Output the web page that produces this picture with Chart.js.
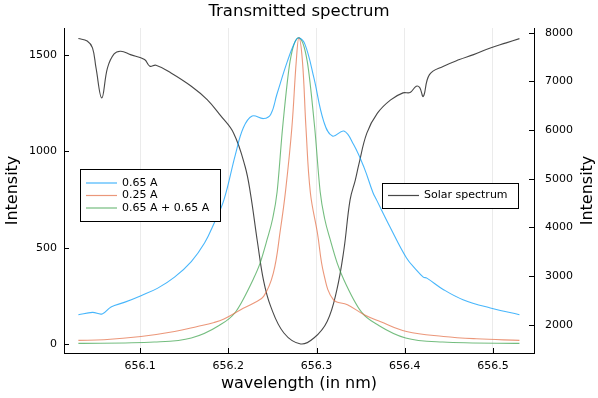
<!DOCTYPE html>
<html>
<head>
<meta charset="utf-8">
<script src="https://cdn.jsdelivr.net/npm/chart.js@4.4.1/dist/chart.umd.min.js"></script>
<style>
html,body{margin:0;padding:0;background:#fff;}
canvas{display:block;}
</style>
</head>
<body>
<canvas id="c" width="598" height="398"></canvas>
<script>
// ---- data ----
const xTicks = [656.1, 656.2, 656.3, 656.4, 656.5];
const yLeftTicks = [0, 500, 1000, 1500];
const yRightTicks = [2000, 3000, 4000, 5000, 6000, 7000, 8000];

const seriesLabels = ["0.65 A", "0.25 A", "0.65 A + 0.65 A", "Solar spectrum"];

const wlBlue = [656.030, 656.046, 656.057, 656.067, 656.082, 656.101, 656.120, 656.139, 656.158, 656.173, 656.184, 656.195, 656.208, 656.217, 656.227, 656.240, 656.248, 656.255, 656.267, 656.276, 656.280, 656.287, 656.297, 656.308, 656.318, 656.331, 656.342, 656.354, 656.364, 656.368, 656.383, 656.402, 656.413, 656.421, 656.425, 656.444, 656.466, 656.497, 656.530];
const blue65 = [152, 164, 156, 192, 216, 251, 290, 347, 428, 524, 628, 748, 983, 1122, 1183, 1170, 1191, 1295, 1468, 1572, 1589, 1554, 1381, 1157, 1079, 1105, 1035, 914, 785, 748, 610, 446, 385, 347, 342, 282, 230, 187, 152];

const wlOrange = [656.030, 656.059, 656.101, 656.139, 656.165, 656.184, 656.195, 656.214, 656.229, 656.240, 656.251, 656.259, 656.265, 656.272, 656.277, 656.280, 656.284, 656.288, 656.293, 656.301, 656.308, 656.319, 656.335, 656.354, 656.372, 656.402, 656.444, 656.481, 656.530];
const orange25 = [19, 22, 39, 65, 91, 112, 130, 178, 213, 247, 368, 593, 800, 1122, 1468, 1589, 1468, 1122, 785, 576, 368, 230, 204, 152, 117, 65, 39, 27, 19];

const wlGreen = [656.030, 656.116, 656.158, 656.189, 656.208, 656.2286, 656.2360, 656.2438, 656.2502, 656.2553, 656.2615, 656.2700, 656.2797, 656.2894, 656.2979, 656.3041, 656.3092, 656.3156, 656.3234, 656.3308, 656.351, 656.371, 656.401, 656.443, 656.530];
const green6565 = [3, 10, 31, 95, 165, 340, 420, 540, 650, 790, 1122, 1468, 1589, 1468, 1122, 790, 650, 540, 420, 335, 165, 95, 31, 10, 3];

const wlSolar = [656.030, 656.040, 656.046, 656.050, 656.0565, 656.063, 656.0705, 656.078, 656.089, 656.105, 656.111, 656.118, 656.135, 656.158, 656.176, 656.191, 656.206, 656.219, 656.225, 656.233, 656.240, 656.248, 656.263, 656.282, 656.297, 656.312, 656.323, 656.331, 656.338, 656.344, 656.348, 656.357, 656.369, 656.384, 656.398, 656.406, 656.413, 656.417, 656.421, 656.428, 656.444, 656.462, 656.478, 656.497, 656.515, 656.530];
const solar = [7880, 7830, 7687, 7276, 6660, 7276, 7563, 7619, 7549, 7447, 7311, 7332, 7173, 6900, 6625, 6300, 5936, 5251, 4704, 3700, 2900, 2376, 1830, 1605, 1727, 2068, 2718, 3540, 4566, 4977, 5300, 5936, 6346, 6619, 6763, 6770, 6900, 6870, 6690, 7139, 7311, 7447, 7549, 7687, 7790, 7878];

// ---- styling ----
const COLORS = ["rgba(0,154,250,0.72)", "rgba(227,111,71,0.72)", "rgba(62,164,78,0.72)", "rgba(40,40,40,0.85)"];
const FONT = "DejaVu Sans";

function pts(xs, ys) { return xs.map((x, i) => ({x: x, y: ys[i]})); }

const textPlugin = {
  id: 'texts',
  afterDraw(chart) {
    const ctx = chart.ctx, a = chart.chartArea;
    ctx.save();
    ctx.fillStyle = '#000';
    ctx.textAlign = 'center';
    ctx.textBaseline = 'middle';
    ctx.font = `16.5px "${FONT}"`;
    ctx.fillText("Transmitted spectrum", (a.left + a.right) / 2, 12);
    ctx.font = `16px "${FONT}"`;
    ctx.fillText("wavelength (in nm)", (a.left + a.right) / 2, 384);
    ctx.save();
    ctx.translate(13, (a.top + a.bottom) / 2);
    ctx.rotate(-Math.PI / 2);
    ctx.fillText("Intensity", 0, 0);
    ctx.restore();
    ctx.save();
    ctx.translate(588, (a.top + a.bottom) / 2);
    ctx.rotate(-Math.PI / 2);
    ctx.fillText("Intensity", 0, 0);
    ctx.restore();

    // inward tick marks
    ctx.strokeStyle = '#000';
    ctx.lineWidth = 1;
    const L = 5;
    const xs = chart.scales.x, yl = chart.scales.y, yr = chart.scales.y2;
    xs.ticks.forEach(t => {
      const p = Math.round(xs.getPixelForValue(t.value)) + 0.5;
      ctx.beginPath(); ctx.moveTo(p, a.bottom); ctx.lineTo(p, a.bottom - L); ctx.stroke();
    });
    yl.ticks.forEach(t => {
      const p = Math.round(yl.getPixelForValue(t.value)) + 0.5;
      ctx.beginPath(); ctx.moveTo(a.left, p); ctx.lineTo(a.left + L, p); ctx.stroke();
    });
    yr.ticks.forEach(t => {
      const p = Math.round(yr.getPixelForValue(t.value)) + 0.5;
      ctx.beginPath(); ctx.moveTo(a.right, p); ctx.lineTo(a.right - L, p); ctx.stroke();
    });

    // legends
    ctx.font = `11px "${FONT}"`;
    ctx.textAlign = 'left';
    function legend(x0, y0, w, h, items) {
      ctx.fillStyle = '#fff';
      ctx.fillRect(x0, y0, w, h);
      ctx.strokeStyle = '#000';
      ctx.lineWidth = 1;
      ctx.strokeRect(x0 + 0.5, y0 + 0.5, w, h);
      items.forEach((it, i) => {
        const y = it.y;
        ctx.strokeStyle = it.color;
        ctx.lineWidth = 1.2;
        ctx.beginPath(); ctx.moveTo(x0 + 6, y); ctx.lineTo(x0 + 37, y); ctx.stroke();
        ctx.fillStyle = '#000';
        ctx.fillText(it.label, x0 + 42, y);
      });
    }
    const ds = chart.data.datasets;
    legend(80, 169, 140, 52, [
      {label: ds[0].label, color: ds[0].borderColor, y: 183},
      {label: ds[1].label, color: ds[1].borderColor, y: 195.5},
      {label: ds[2].label, color: ds[2].borderColor, y: 208}
    ]);
    legend(382, 183, 136, 25, [
      {label: ds[3].label, color: ds[3].borderColor, y: 195.5}
    ]);
    ctx.restore();
  }
};

const common = {pointRadius: 0, borderWidth: 1.1, fill: false, tension: 0.4};

new Chart(document.getElementById('c'), {
  type: 'line',
  data: {
    datasets: [
      Object.assign({label: seriesLabels[0], data: pts(wlBlue, blue65), borderColor: COLORS[0], yAxisID: 'y'}, common),
      Object.assign({label: seriesLabels[1], data: pts(wlOrange, orange25), borderColor: COLORS[1], yAxisID: 'y'}, common),
      Object.assign({label: seriesLabels[2], data: pts(wlGreen, green6565), borderColor: COLORS[2], yAxisID: 'y'}, common, {cubicInterpolationMode: 'monotone'}),
      Object.assign({label: seriesLabels[3], data: pts(wlSolar, solar), borderColor: COLORS[3], yAxisID: 'y2'}, common)
    ]
  },
  options: {
    responsive: false,
    animation: false,
    devicePixelRatio: 1,
    layout: {padding: {top: 28, left: 0, right: 0, bottom: 0}},
    plugins: {legend: {display: false}, title: {display: false}, tooltip: {enabled: false}},
    scales: {
      x: {
        type: 'linear', position: 'bottom',
        min: 656.0137, max: 656.5465,
        afterFit: s => { s.height = 45; },
        afterBuildTicks: s => { s.ticks = xTicks.map(v => ({value: v})); },
        grid: {color: 'rgba(0,0,0,0.08)', drawTicks: false},
        border: {color: '#000', width: 1},
        ticks: {color: '#000', padding: 7, font: {family: FONT, size: 11}, callback: v => v.toFixed(1)}
      },
      y: {
        type: 'linear', position: 'left',
        min: -46.7, max: 1640,
        afterFit: s => { s.width = 64; },
        afterBuildTicks: s => { s.ticks = yLeftTicks.map(v => ({value: v})); },
        grid: {display: false, drawTicks: false},
        border: {color: '#000', width: 1},
        ticks: {color: '#000', padding: 7, font: {family: FONT, size: 11}, callback: v => String(v)}
      },
      y2: {
        type: 'linear', position: 'right',
        min: 1419, max: 8096,
        afterFit: s => { s.width = 64; },
        afterBuildTicks: s => { s.ticks = yRightTicks.map(v => ({value: v})); },
        grid: {display: false, drawTicks: false},
        border: {color: '#000', width: 1},
        ticks: {color: '#000', padding: 11, font: {family: FONT, size: 11}, callback: v => String(v)}
      }
    }
  },
  plugins: [textPlugin]
});
</script>
</body>
</html>
